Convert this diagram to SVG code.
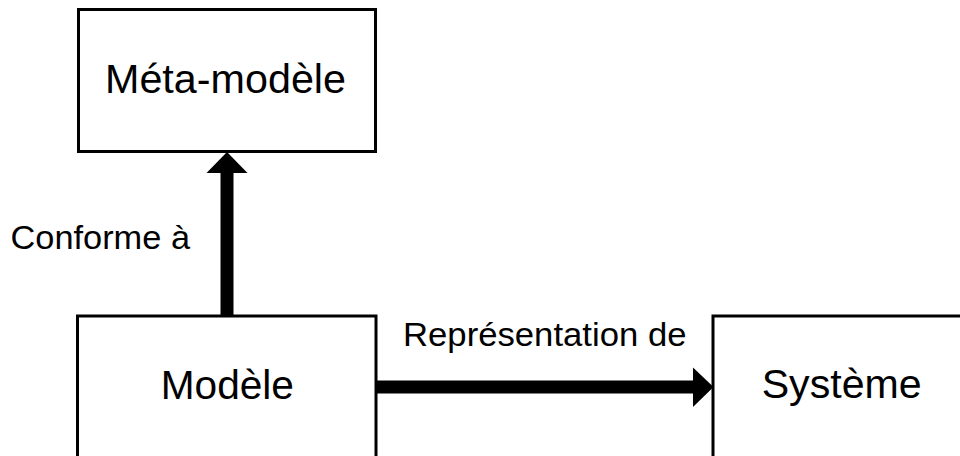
<svg xmlns="http://www.w3.org/2000/svg" width="960" height="456" viewBox="0 0 960 456">
<style>
.box{fill:#fff;stroke:#000;stroke-width:3}
.big{font-family:"Liberation Sans",Arial,sans-serif;font-size:41px;fill:#000}
.small{font-family:"Liberation Sans",Arial,sans-serif;font-size:33px;fill:#000}
.shaft{stroke:#000;stroke-width:13;fill:none}
</style>
<rect width="960" height="456" fill="#fff"/>
<g id="connectors">
<line class="shaft" x1="227" y1="316" x2="227" y2="170"/>
<polygon points="227,152 206.5,173 247.5,173" fill="#000"/>
<text class="small" x="10.5" y="249" textLength="179.5" lengthAdjust="spacingAndGlyphs">Conforme à</text>
<line class="shaft" x1="376" y1="387" x2="696" y2="387"/>
<polygon points="713.5,387 693,367.5 693,407" fill="#000"/>
<text class="small" x="403" y="345.5" textLength="283.5" lengthAdjust="spacingAndGlyphs">Représentation de</text>
</g>
<g id="meta-modele">
<rect class="box" x="78.5" y="9.5" width="297" height="142"/>
<text class="big" x="105" y="92.5" textLength="241" lengthAdjust="spacingAndGlyphs">Méta-modèle</text>
</g>
<g id="modele">
<rect class="box" x="77.5" y="316" width="298.5" height="200"/>
<text class="big" x="160.7" y="399" textLength="133.3" lengthAdjust="spacingAndGlyphs">Modèle</text>
</g>
<g id="systeme">
<rect class="box" x="713" y="316" width="258" height="200"/>
<text class="big" x="761.7" y="398" textLength="160" lengthAdjust="spacingAndGlyphs">Système</text>
</g>
</svg>
